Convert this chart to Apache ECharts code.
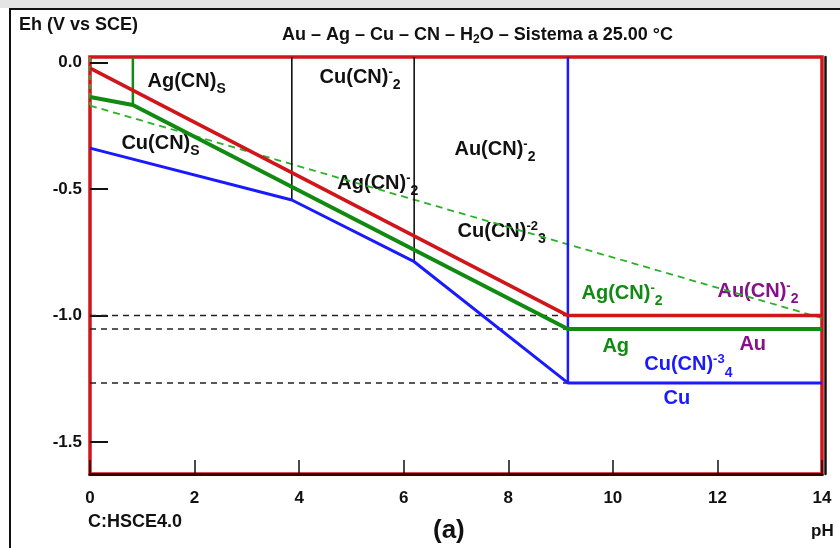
<!DOCTYPE html>
<html>
<head>
<meta charset="utf-8">
<script src="https://cdn.jsdelivr.net/npm/echarts@6/dist/echarts.min.js"></script>
<style>
  html, body { margin: 0; padding: 0; background: #fff; }
  #main { width: 840px; height: 548px; }
</style>
</head>
<body>
<div id="main"></div>
<script>
// axis ranges: pH and Eh (V vs SCE)
const phRange = [0, 14];
const ehRange = [-1.626, 0.022];
const ehTicks = [0, -0.5, -1.0, -1.5];

// boundaries, [pH, Eh]
const auLine = [[0, -0.022], [9.14, -1.0], [14, -1.0]];
const agLine = [[0, -0.136], [0.82, -0.168], [9.14, -1.053], [14, -1.053]];
const agVertical = [[0.82, 0.022], [0.82, -0.168]];
const agLeftDash = [[0, 0.022], [0, -0.168]];
const cuLine = [[0, -0.338], [3.86, -0.543], [6.2, -0.787], [9.14, -1.266], [14, -1.266]];
const cuVertical = [[9.14, 0.022], [9.14, -1.266]];
const cuCn2Edge = [[3.86, 0.022], [3.86, -0.543]];
const cuCn3Edge = [[6.2, 0.022], [6.2, -0.787]];
const waterLine = [[0, -0.17], [14, -1.01]];
// dashed levels: [Eh, pH end]
const dashLevels = [[-1.0, 14], [-1.053, 14], [-1.266, 9.14]];

// species labels: [rich text, pH, Eh]
const blackLabels = [
  ['Ag(CN){b|S}', 1.11, -0.077],
  ['Cu(CN){b|S}', 0.61, -0.322],
  ['Cu(CN){p|-}{b|2}', 4.40, -0.061],
  ['Au(CN){p|-}{b|2}', 6.98, -0.346],
  ['Ag(CN){p|-}{b|2}', 4.74, -0.480],
  ['Cu(CN){p|-2}{b|3}', 7.04, -0.670]
];
const greenLabels = [['Ag(CN){p|-}{b|2}', 9.41, -0.915], ['Ag', 9.81, -1.124]];
const purpleLabels = [['Au(CN){p|-}{b|2}', 12.01, -0.907], ['Au', 12.43, -1.117]];
const blueLabels = [['Cu(CN){p|-3}{b|4}', 10.61, -1.196], ['Cu', 10.98, -1.330]];

const FONT = 'Liberation Sans, Arial, sans-serif';
const RED = '#d0161a';
const GREEN = '#118a11';
const BLUE = '#1a1aff';
const PURPLE = '#86108a';

const chart = echarts.init(document.getElementById('main'));

function line(data, color, width, type) {
  return {
    type: 'line',
    data: data,
    showSymbol: false,
    silent: true,
    animation: false,
    lineStyle: { color: color, width: width, type: type || 'solid' }
  };
}

function labels(list, color) {
  return {
    type: 'scatter',
    symbolSize: 1,
    itemStyle: { color: 'rgba(0,0,0,0)', opacity: 1 },
    silent: true,
    animation: false,
    data: list.map(l => ({ name: l[0], value: [l[1], l[2]] })),
    label: {
      show: true,
      position: [0, 0],
      align: 'left',
      verticalAlign: 'middle',
      formatter: p => p.name,
      color: color,
      fontFamily: FONT,
      fontWeight: 'bold',
      fontSize: 20,
      lineHeight: 24,
      rich: {
        p: { color: color, fontFamily: FONT, fontWeight: 'bold', fontSize: 13, lineHeight: 13, verticalAlign: 'top' },
        b: { color: color, fontFamily: FONT, fontWeight: 'bold', fontSize: 14, lineHeight: 14, verticalAlign: 'bottom', padding: [0, 0, -3, 0] }
      }
    }
  };
}

const series = [];
dashLevels.forEach(d => series.push(line([[0, d[0]], [d[1], d[0]]], '#222', 1.5, [6, 5])));
series.push(line(waterLine, '#2ab02a', 1.8, [7, 5]));
series.push(line(agLeftDash, '#2ab02a', 1.8, [5, 4]));
series.push(line(cuCn2Edge, '#111', 1.6));
series.push(line(cuCn3Edge, '#111', 1.6));
series.push(line(cuVertical, BLUE, 2.5));
series.push(line(cuLine, BLUE, 3));
series.push(line(agVertical, GREEN, 2.5));
series.push(line(agLine, GREEN, 4));
series.push(line(auLine, RED, 3.5));
series.push(labels(blackLabels, '#111'));
series.push(labels(greenLabels, GREEN));
series.push(labels(purpleLabels, PURPLE));
series.push(labels(blueLabels, BLUE));

chart.setOption({
  animation: false,
  backgroundColor: '#fff',
  title: {
    left: 277,
    top: 19,
    text: '{a|Au – Ag – Cu – CN – H}{s|2}{a|O – Sistema a 25.00 °C}',
    textStyle: {
      rich: {
        a: { fontFamily: FONT, fontWeight: 'bold', fontSize: 18, color: '#111', lineHeight: 22 },
        s: { fontFamily: FONT, fontWeight: 'bold', fontSize: 12, color: '#111', lineHeight: 12, verticalAlign: 'bottom' }
      }
    }
  },
  grid: {
    left: 90, right: 18, top: 57, bottom: 74,
    show: true, borderColor: RED, borderWidth: 3.5, backgroundColor: 'transparent'
  },
  xAxis: {
    type: 'value',
    min: phRange[0], max: phRange[1], interval: 2,
    splitLine: { show: false },
    axisLine: { show: true, onZero: false, lineStyle: { color: '#3a0000', width: 3 } },
    axisTick: { show: true, inside: true, length: 14, lineStyle: { color: '#111', width: 1.5 } },
    axisLabel: { color: '#111', fontFamily: FONT, fontWeight: 'bold', fontSize: 17, margin: 16 }
  },
  yAxis: [{
    type: 'value',
    min: ehRange[0], max: ehRange[1],
    splitLine: { show: false },
    axisLine: { show: false },
    axisTick: { show: true, inside: true, length: 18, customValues: ehTicks, lineStyle: { color: '#111', width: 2 } },
    axisLabel: {
      customValues: ehTicks,
      formatter: v => v.toFixed(1),
      color: '#111', fontFamily: FONT, fontWeight: 'bold', fontSize: 17, margin: 8
    }
  }, {
    type: 'value',
    position: 'right',
    offset: 3,
    min: ehRange[0], max: ehRange[1],
    splitLine: { show: false },
    axisLine: { show: true, lineStyle: { color: '#111', width: 2.5 } },
    axisTick: { show: false },
    axisLabel: { show: false }
  }],
  series: series,
  graphic: [
    { type: 'rect', shape: { x: 0, y: 0, width: 840, height: 8 }, style: { fill: '#e4e4e4' }, silent: true },
    { type: 'rect', shape: { x: 10, y: 9, width: 850, height: 560 }, style: { fill: 'none', stroke: '#111', lineWidth: 2 }, silent: true },
    { type: 'text', left: 19, top: 16, style: { text: 'Eh (V vs SCE)', font: 'bold 18px ' + FONT, fill: '#111' }, silent: true },
    { type: 'text', left: 88, top: 513, style: { text: 'C:HSCE4.0', font: 'bold 18px ' + FONT, fill: '#111' }, silent: true },
    { type: 'text', left: 433, top: 518, style: { text: '(a)', font: 'bold 26px ' + FONT, fill: '#111' }, silent: true },
    { type: 'text', left: 811, top: 523, style: { text: 'pH', font: 'bold 17px ' + FONT, fill: '#111' }, silent: true }
  ]
});
</script>
</body>
</html>
